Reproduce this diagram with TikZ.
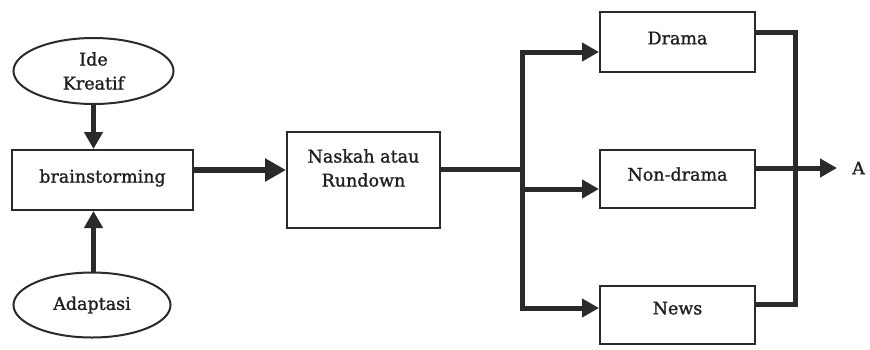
\documentclass[tikz,border=0pt]{standalone}
\usepackage{fontspec}
\setmainfont{DejaVu Serif}[FakeBold=1.2]
\usetikzlibrary{arrows.meta,shapes.geometric}
\definecolor{ink}{HTML}{2A2A2A}
\definecolor{inktext}{HTML}{1E1E1E}
\begin{document}
\begin{tikzpicture}[x=1pt,y=-1pt,
  font=\fontsize{17.5}{24}\selectfont, text=inktext,
  box/.style={draw=ink, line width=2pt, rectangle, inner sep=0pt, align=center},
  oval/.style={draw=ink, line width=2pt, ellipse, inner sep=0pt, align=center},
  txt/.style={inner sep=0pt, align=center},
  ln/.style={draw=ink, line width=5pt},
  ar/.style={draw=ink, line width=5pt, -{Triangle[length=17pt,width=18pt]}},
  bigar/.style={draw=ink, line width=6.5pt, -{Triangle[length=21pt,width=22pt]}},
]
\useasboundingbox (0,0) rectangle (870,349);

% nodes
\node[oval, minimum width=160pt, minimum height=66pt] (ik) at (93.5,71) {Ide\\Kreatif};
\node[box, minimum width=181pt, minimum height=60pt] (bs) at (102.5,180) {\raisebox{8pt}{brainstorming}};
\node[oval, minimum width=157pt, minimum height=65pt] (ad) at (92,305) {Adaptasi};
\node[box, minimum width=153pt, minimum height=96pt] (nr) at (363.5,180) {};
\node[txt] (nrt) at (363.5,168) {Naskah atau\\Rundown};
\node[box, minimum width=155pt, minimum height=60pt] (dr) at (677.5,42) {\raisebox{8pt}{Drama}};
\node[box, minimum width=155pt, minimum height=58pt] (nd) at (677.5,179) {\raisebox{10pt}{Non-drama}};
\node[box, minimum width=155pt, minimum height=58pt] (nw) at (677.5,315) {\raisebox{14pt}{News}};
\node[txt, anchor=west] (A) at (852,168) {A};

% left arrows
\draw[ar] (ik.south) -- (ik.south |- bs.north);
\draw[ar] (ad.north -| ik.south) -- (bs.south -| ik.south);
\draw[bigar] ([yshift=10pt]bs.east) -- ([yshift=10pt]nr.west);

% branching
\coordinate (sp) at (522,169);
\coordinate (d1) at ([yshift=-10pt]dr.west);
\coordinate (n1) at ([yshift=-10pt]nd.west);
\coordinate (w1) at ([yshift=7pt]nw.west);
\draw[ln] ([yshift=11pt]nr.east) -- (sp);
\draw[ar] (sp |- w1) -- (sp |- d1) -- (d1);
\draw[ar] (sp |- d1) -- (sp |- w1) -- (w1);
\draw[ar] (sp |- n1) -- (n1);

% merging
\coordinate (rx) at (795,0);
\coordinate (d2) at ([yshift=10pt]dr.east);
\coordinate (w2) at ([yshift=11pt]nw.east);
\draw[ln] (d2) -- (rx |- d2) -- (rx |- w2) -- (w2);
\draw[ar] ([yshift=11pt]nd.east) -- ([xshift=-15pt]A.west);
\end{tikzpicture}
\end{document}
